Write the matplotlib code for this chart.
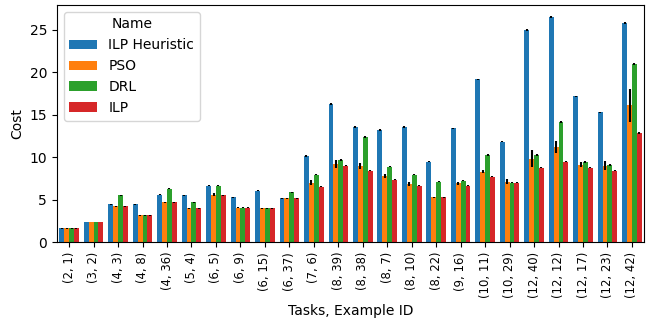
import numpy as np
import matplotlib
matplotlib.use("Agg")
import matplotlib.pyplot as plt


tasks = ["(2, 1)", "(3, 2)", "(4, 3)", "(4, 8)", "(4, 36)", "(5, 4)", "(6, 5)", "(6, 9)",
         "(6, 15)", "(6, 37)", "(7, 6)", "(8, 39)", "(8, 38)", "(8, 7)", "(8, 10)", "(8, 22)",
         "(9, 16)", "(10, 11)", "(10, 29)", "(12, 40)", "(12, 12)", "(12, 17)", "(12, 23)", "(12, 42)"]

ilp_heuristic = [1.6, 2.37, 4.44, 4.44, 5.57, 5.5, 6.66, 5.26,
                 6.07, 5.14, 10.13, 16.24, 13.55, 13.2, 13.55, 9.46,
                 13.43, 19.16, 11.8, 25.0, 26.5, 17.17, 15.3, 25.8]
pso = [1.6, 2.37, 4.2, 3.15, 4.67, 3.97, 5.57, 4.05,
       3.97, 5.14, 7.0, 9.19, 9.0, 7.75, 6.85, 5.26,
       6.9, 8.3, 7.13, 9.81, 11.2, 9.1, 9.0, 16.1]
drl = [1.6, 2.37, 5.5, 3.15, 6.3, 4.67, 6.66, 4.05,
       3.97, 5.84, 7.94, 9.66, 12.38, 8.88, 7.94, 7.13,
       7.24, 10.28, 7.0, 10.28, 14.14, 9.46, 9.1, 21.0]
ilp = [1.6, 2.37, 4.2, 3.15, 4.67, 3.97, 5.5, 4.05,
       3.97, 5.14, 6.54, 9.0, 8.41, 7.36, 6.66, 5.26,
       6.66, 7.71, 7.0, 8.76, 9.46, 8.76, 8.41, 12.85]

# 95% CI half-widths per bar
ilp_heuristic_err = [0.02, 0.02, 0.05, 0.03, 0.05, 0.03, 0.05, 0.04,
                     0.03, 0.04, 0.08, 0.1, 0.08, 0.08, 0.08, 0.05,
                     0.06, 0.08, 0.06, 0.1, 0.12, 0.08, 0.08, 0.12]
pso_err = [0.02, 0.02, 0.1, 0.04, 0.08, 0.06, 0.15, 0.04,
           0.05, 0.05, 0.27, 0.47, 0.35, 0.25, 0.2, 0.05,
           0.15, 0.2, 0.25, 1.0, 0.75, 0.3, 0.5, 1.9]
drl_err = [0.02, 0.02, 0.08, 0.03, 0.1, 0.04, 0.08, 0.04,
           0.03, 0.06, 0.08, 0.1, 0.08, 0.08, 0.08, 0.05,
           0.06, 0.1, 0.1, 0.1, 0.1, 0.1, 0.1, 0.12]
ilp_err = [0.02, 0.02, 0.05, 0.03, 0.05, 0.04, 0.05, 0.04,
           0.03, 0.04, 0.06, 0.08, 0.08, 0.06, 0.06, 0.05,
           0.06, 0.06, 0.06, 0.08, 0.08, 0.08, 0.08, 0.1]

names = ["ILP Heuristic", "PSO", "DRL", "ILP"]
colors = ["#1f77b4", "#ff7f0e", "#2ca02c", "#d62728"]
series = [ilp_heuristic, pso, drl, ilp]
errors = [ilp_heuristic_err, pso_err, drl_err, ilp_err]

fig, ax = plt.subplots(figsize=(6.54, 3.24), dpi=100)
fig.subplots_adjust(left=0.087, right=0.985, top=0.985, bottom=0.253)

x = np.arange(len(tasks))
w = 0.2
for i, (name, vals, err, c) in enumerate(zip(names, series, errors, colors)):
    pos = x - 0.3 + i * w
    ax.bar(pos, vals, width=w, color=c, label=name)
    ax.errorbar(pos, vals, yerr=err, fmt="none", ecolor="black", elinewidth=1.5)

ax.set_xticks(x)
ax.set_xticklabels(tasks, rotation=90, fontsize=8.4)
ax.set_xlim(-0.5, len(tasks) - 0.5)
ax.set_xlabel("Tasks, Example ID")
ax.set_ylabel("Cost")
ax.legend(title="Name", loc="upper left")

plt.savefig("out.png")
